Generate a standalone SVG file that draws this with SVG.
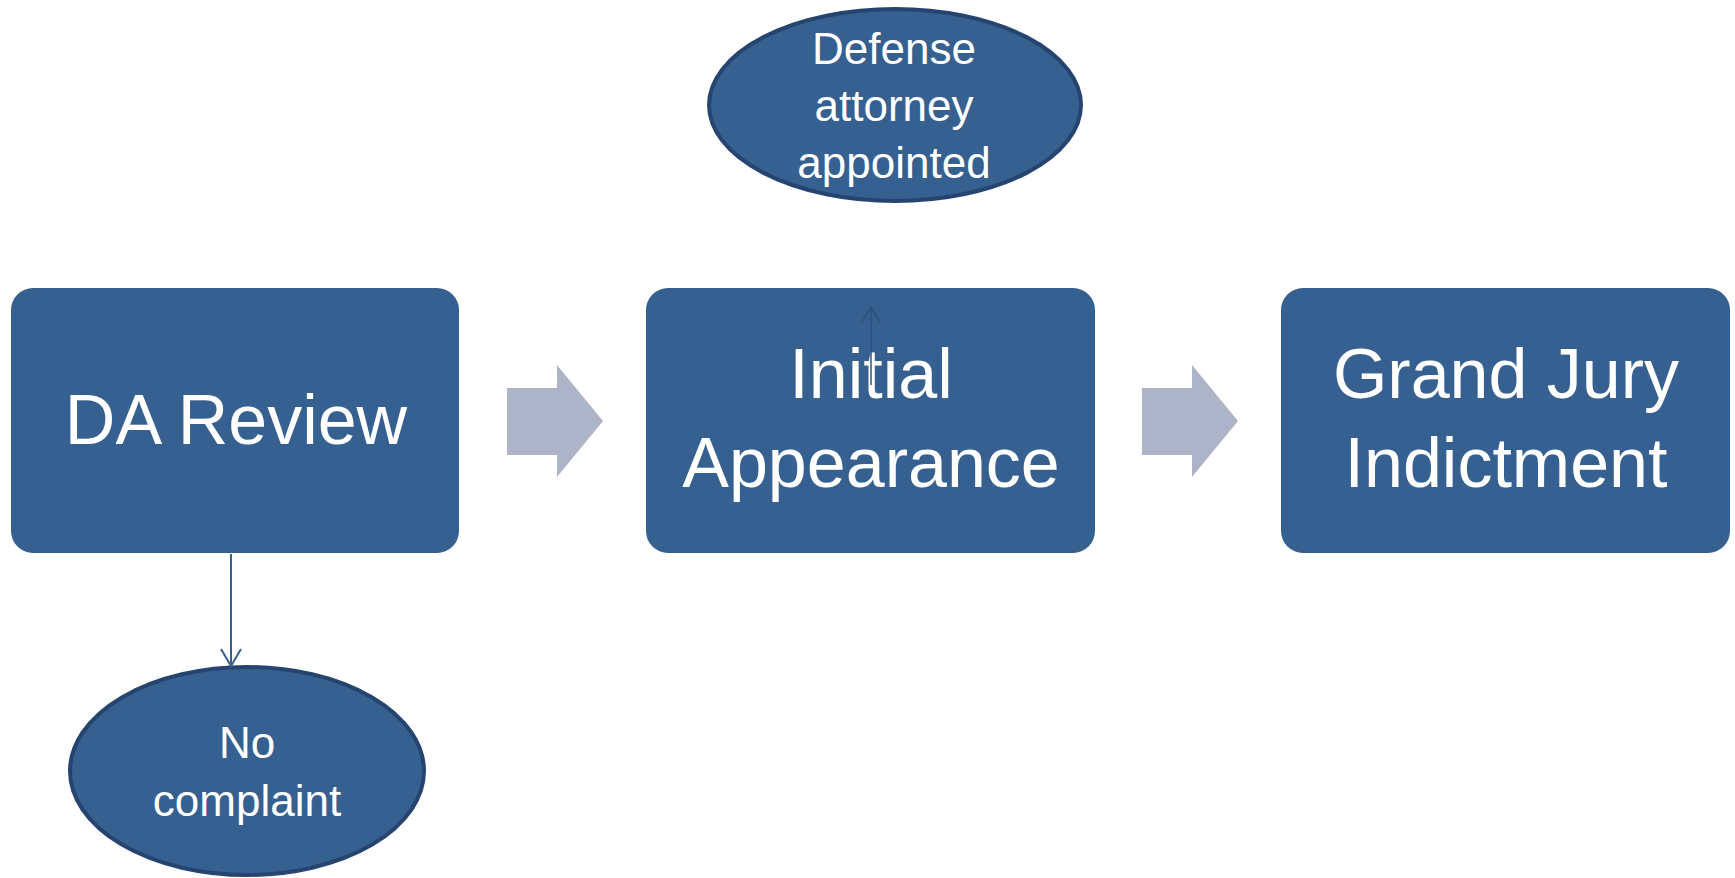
<svg xmlns="http://www.w3.org/2000/svg" width="1735" height="878" viewBox="0 0 1735 878">
<style>
.box{fill:#36608F}
.ell{fill:#36608F;stroke:#254470;stroke-width:4}
.big{font-family:"Liberation Sans",Arial,sans-serif;font-size:70px;fill:#FFFFFF;text-anchor:middle}
.small{font-family:"Liberation Sans",Arial,sans-serif;font-size:44px;fill:#FFFFFF;text-anchor:middle}
.blk{fill:#ADB4C7}
</style>
<defs>
<marker id="headA" viewBox="-20 -12 22 24" refX="0" refY="0" markerWidth="22" markerHeight="24" markerUnits="userSpaceOnUse" orient="auto">
<path d="M-17,-10 L0,0 L-17,10" fill="none" stroke="#36608F" stroke-width="2"/>
</marker>
<marker id="headB" viewBox="-20 -12 22 24" refX="0" refY="0" markerWidth="22" markerHeight="24" markerUnits="userSpaceOnUse" orient="auto">
<path d="M-16,-9.5 L0,0 L-16,9.5" fill="none" stroke="#2A5282" stroke-width="1.5"/>
</marker>
</defs>
<rect width="1735" height="878" fill="#FFFFFF"/>
<g id="da-review">
<rect class="box" x="11" y="288" width="448" height="265" rx="22"/>
<text class="big" x="236" y="444">DA Review</text>
</g>
<g id="initial-appearance">
<rect class="box" x="646" y="288" width="449" height="265" rx="22"/>
<text class="big" x="871" y="398">Initial</text>
<text class="big" x="871" y="487">Appearance</text>
</g>
<g id="grand-jury">
<rect class="box" x="1281" y="288" width="449" height="265" rx="22"/>
<text class="big" x="1506" y="398">Grand Jury</text>
<text class="big" x="1506" y="487">Indictment</text>
</g>
<g id="defense-attorney">
<ellipse class="ell" cx="895" cy="105" rx="186" ry="96"/>
<text class="small" x="894" y="64">Defense</text>
<text class="small" x="894" y="121">attorney</text>
<text class="small" x="894" y="178">appointed</text>
</g>
<g id="no-complaint">
<ellipse class="ell" cx="247" cy="771" rx="177" ry="104"/>
<text class="small" x="247" y="758">No</text>
<text class="small" x="247" y="816">complaint</text>
</g>
<g id="connectors">
<polygon class="blk" points="507,388 557,388 557,365 603,421 557,477 557,455 507,455"/>
<polygon class="blk" points="1142,388 1192,388 1192,365 1238,421 1192,477 1192,455 1142,455"/>
<line x1="231" y1="554" x2="231" y2="666" stroke="#36608F" stroke-width="2" marker-end="url(#headA)"/>
<line x1="871" y1="385" x2="871" y2="307" stroke="#2A5282" stroke-width="1.5" marker-end="url(#headB)"/>
</g>
</svg>
